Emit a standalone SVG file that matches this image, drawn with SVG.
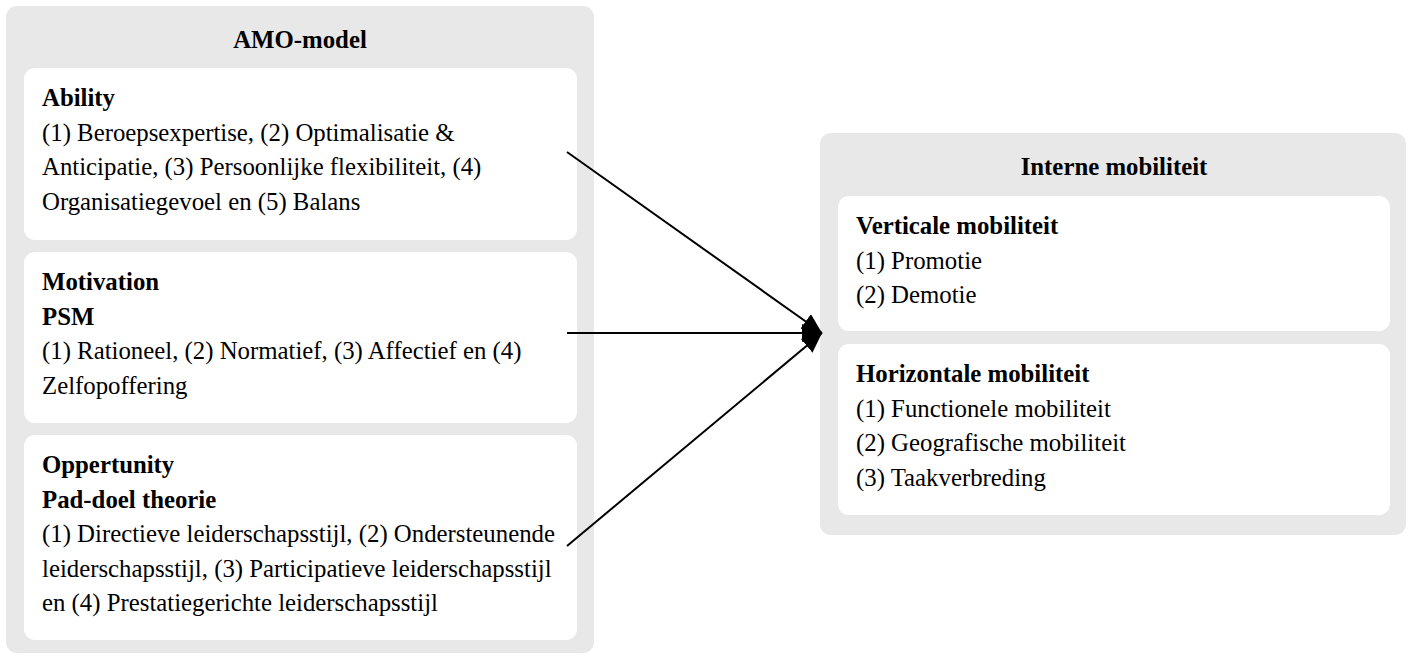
<svg xmlns="http://www.w3.org/2000/svg" width="1411" height="659" viewBox="0 0 1411 659">
<style>
.outer{fill:#e8e8e8}
.inner{fill:#ffffff}
text{font-family:"Liberation Serif","Times New Roman",Times,serif;font-size:24.8px;fill:#000}
.b{font-weight:bold}
.conn{stroke:#000;stroke-width:2;fill:none;marker-end:url(#arrow)}
</style>
<defs>
<marker id="arrow" markerUnits="userSpaceOnUse" viewBox="0 0 20 18" markerWidth="20" markerHeight="18" refX="20" refY="9" orient="auto">
<path d="M0,0 L20,9 L0,18 z" fill="#000"/>
</marker>
</defs>
<rect width="1411" height="659" fill="#fff"/>
<g id="amo-model">
<rect class="outer" x="6" y="6" width="588" height="647" rx="11"/>
<text class="b" x="300" y="48" text-anchor="middle">AMO-model</text>
</g>
<g id="ability">
<rect class="inner" x="24" y="68" width="553" height="172" rx="11"/>
<text class="b" x="42" y="106">Ability</text>
<text x="42" y="140.5">(1) Beroepsexpertise, (2) Optimalisatie &amp;</text>
<text x="42" y="175">Anticipatie, (3) Persoonlijke flexibiliteit, (4)</text>
<text x="42" y="209.5">Organisatiegevoel en (5) Balans</text>
</g>
<g id="motivation">
<rect class="inner" x="24" y="252" width="553" height="171" rx="11"/>
<text class="b" x="42" y="290">Motivation</text>
<text class="b" x="42" y="324.5">PSM</text>
<text x="42" y="359">(1) Rationeel, (2) Normatief, (3) Affectief en (4)</text>
<text x="42" y="393.5">Zelfopoffering</text>
</g>
<g id="opportunity">
<rect class="inner" x="24" y="435" width="553" height="205" rx="11"/>
<text class="b" x="42" y="473">Oppertunity</text>
<text class="b" x="42" y="507.5">Pad-doel theorie</text>
<text x="42" y="542">(1) Directieve leiderschapsstijl, (2) Ondersteunende</text>
<text x="42" y="576.5">leiderschapsstijl, (3) Participatieve leiderschapsstijl</text>
<text x="42" y="611">en (4) Prestatiegerichte leiderschapsstijl</text>
</g>
<g id="interne-mobiliteit">
<rect class="outer" x="820" y="133" width="586" height="402" rx="11"/>
<text class="b" x="1114" y="175" text-anchor="middle">Interne mobiliteit</text>
</g>
<g id="verticale">
<rect class="inner" x="838" y="196" width="552" height="135" rx="11"/>
<text class="b" x="856" y="234">Verticale mobiliteit</text>
<text x="856" y="268.5">(1) Promotie</text>
<text x="856" y="303">(2) Demotie</text>
</g>
<g id="horizontale">
<rect class="inner" x="838" y="344" width="552" height="171" rx="11"/>
<text class="b" x="856" y="382">Horizontale mobiliteit</text>
<text x="856" y="416.5">(1) Functionele mobiliteit</text>
<text x="856" y="451">(2) Geografische mobiliteit</text>
<text x="856" y="485.5">(3) Taakverbreding</text>
</g>
<g id="connectors">
<line class="conn" x1="567" y1="152" x2="822" y2="333"/>
<line class="conn" x1="567" y1="333" x2="822" y2="333"/>
<line class="conn" x1="567" y1="546" x2="822" y2="333"/>
</g>
</svg>
